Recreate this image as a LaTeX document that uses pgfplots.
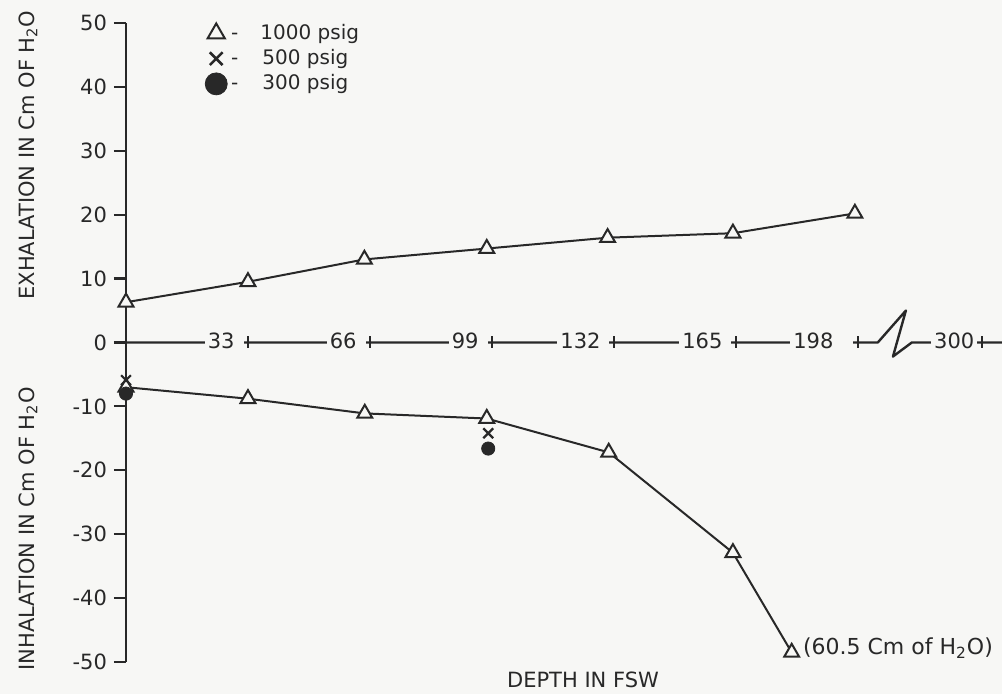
\documentclass[border=0pt]{standalone}
\usepackage{fontspec}
\setmainfont{DejaVu Sans}
\usepackage{pgfplots}
\pgfplotsset{compat=1.18}
\definecolor{ink}{RGB}{40,40,40}
\definecolor{bg}{RGB}{247,247,245}
\newcommand{\fs}[1]{\fontsize{#1}{#1}\selectfont}
\newcommand{\pad}[1]{\rule{#1}{0pt}}

\begin{document}
\begin{tikzpicture}
\fill[bg] (-63pt,-16pt) rectangle (438pt,331pt);
\begin{axis}[
  at={(0pt,0pt)}, anchor=south west,
  scale only axis, width=438pt, height=319.5pt,
  xmin=0, xmax=237, ymin=-50, ymax=50,
  axis on top=true, clip=false,
  axis x line*=middle, axis y line*=left,
  x axis line style={draw=none},
  y axis line style={draw=ink, line width=1.2pt},
  tick align=outside,
  major tick length=6pt,
  xtick style={draw=none},
  ytick style={draw=ink, line width=1.1pt},
  xtick={33,66,99,132,165,198,231.5},
  xticklabels={{33\pad{3pt}},{66\pad{3pt}},{99\pad{3pt}},{132\pad{3pt}},{165\pad{3pt}},{198\pad{8.5pt}},{300}},
  xticklabel style={anchor=east, xshift=-2pt, yshift=7pt, fill=bg, inner xsep=1.5pt, inner ysep=2pt, text=ink, font=\fs{10.5}},
  ytick={-50,-40,...,50},
  yticklabels={{-50},{-40},{-30},{-20},{-10},0,10,20,30,40,50},
  yticklabel style={text=ink, font=\fs{10.5}},
  xlabel={DEPTH IN FSW},
  xlabel style={at={(rel axis cs:0.5217,0)}, anchor=center, yshift=-9pt, text=ink, font=\fs{10.5}},
  legend style={at={(rel axis cs:0.090,1.0047)}, anchor=north west, draw=none, fill=none, font=\fs{10}, text=ink, row sep=-0.5pt, inner sep=0pt},
  legend cell align=left,
]
\addlegendimage{only marks, mark=triangle*, mark size=5pt, ink, mark options={fill=bg, line width=1pt}}
\addlegendentry{-\pad{11pt}1000 psig}
\addlegendimage{only marks, mark=x, mark size=4.5pt, ink, line width=1.3pt}
\addlegendentry{-\pad{12pt}500 psig}
\addlegendimage{only marks, mark=*, mark size=5.5pt, ink}
\addlegendentry{-\pad{12pt}300 psig}

\draw[ink, line width=1.2pt, line join=round] (axis cs:0,0) -- (axis cs:203.4,0) -- (axis cs:211,5) -- (axis cs:207.5,-2.2) -- (axis cs:212.6,0) -- (axis cs:237,0);

% tick crosses on the depth axis
\addplot[only marks, mark=|, mark size=3pt, ink, line width=1.1pt, forget plot]
  coordinates {(33,0) (66,0) (99,0) (132,0) (165,0) (198,0) (231.5,0)};

% exhalation, 1000 psig
\addplot[ink, line width=1pt, mark=triangle*, mark size=4.3pt, mark options={fill=bg, solid, line width=1pt}, forget plot]
  coordinates {(0,6.3) (33,9.5) (64.5,13.0) (97.6,14.7) (130.3,16.4) (164.2,17.1) (197.2,20.2)};
% inhalation, 1000 psig
\addplot[ink, line width=1pt, mark=triangle*, mark size=4.3pt, mark options={fill=bg, solid, line width=1pt}, forget plot]
  coordinates {(0,-7.0) (33,-8.8) (64.6,-11.1) (97.6,-11.9) (130.6,-17.2) (164.2,-32.9) (180.1,-48.5)};
% 500 psig
\addplot[only marks, mark=x, mark size=3.5pt, ink, line width=1.1pt, forget plot]
  coordinates {(0,-5.9) (98,-14.2)};
% 300 psig
\addplot[only marks, mark=*, mark size=3.3pt, ink, forget plot]
  coordinates {(0,-8.0) (98,-16.6)};

\node[rotate=90, text=ink, font=\fs{10.5}] at (rel axis cs:-0.1119,0.7934) {EXHALATION IN Cm OF H\textsubscript{2}O};
\node[rotate=90, text=ink, font=\fs{10.5}] at (rel axis cs:-0.1119,0.2081) {INHALATION IN Cm OF H\textsubscript{2}O};
\node[anchor=west, text=ink, font=\fs{11}, inner sep=0pt, xshift=5.5pt, yshift=2pt] at (axis cs:180.1,-48.5) {(60.5 Cm of H\textsubscript{2}O)};
\end{axis}
\pgfresetboundingbox
\useasboundingbox (-63pt,-16pt) rectangle (438pt,331pt);
\end{tikzpicture}
\end{document}
